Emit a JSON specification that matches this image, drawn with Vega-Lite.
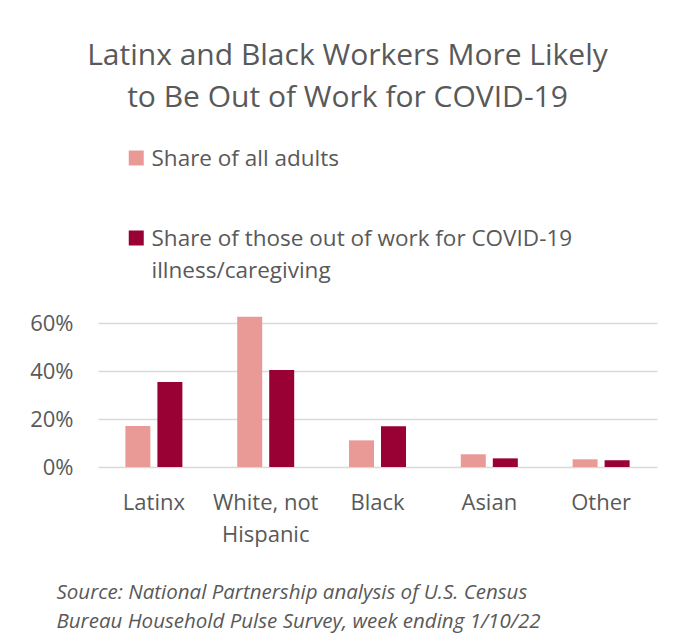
{
  "$schema": "https://vega.github.io/schema/vega-lite/v6.json",
  "width": 559,
  "height": 168,
  "autosize": {"type": "none"},
  "padding": {"left": 98, "top": 299, "right": 25, "bottom": 171},
  "background": "white",
  "title": {
    "text": ["Latinx and Black Workers More Likely", "to Be Out of Work for COVID-19"],
    "font": "Open Sans",
    "fontSize": 30,
    "fontWeight": "normal",
    "color": "#595959",
    "lineHeight": 42,
    "anchor": "middle",
    "dx": -30,
    "offset": 24
  },
  "data": {
    "values": [
      {"group": "Latinx", "series": "Share of all adults", "value": 0.171},
      {"group": "Latinx", "series": "Share of those out of work for COVID-19 illness/caregiving", "value": 0.354},
      {"group": "White, not Hispanic", "series": "Share of all adults", "value": 0.626},
      {"group": "White, not Hispanic", "series": "Share of those out of work for COVID-19 illness/caregiving", "value": 0.404},
      {"group": "Black", "series": "Share of all adults", "value": 0.111},
      {"group": "Black", "series": "Share of those out of work for COVID-19 illness/caregiving", "value": 0.17},
      {"group": "Asian", "series": "Share of all adults", "value": 0.053},
      {"group": "Asian", "series": "Share of those out of work for COVID-19 illness/caregiving", "value": 0.036},
      {"group": "Other", "series": "Share of all adults", "value": 0.032},
      {"group": "Other", "series": "Share of those out of work for COVID-19 illness/caregiving", "value": 0.028}
    ]
  },
  "mark": {"type": "bar"},
  "encoding": {
    "x": {
      "field": "group",
      "type": "nominal",
      "sort": null,
      "scale": {"paddingInner": 0, "paddingOuter": 0},
      "axis": {
        "title": ["Source: National Partnership analysis of U.S. Census", "Bureau Household Pulse Survey, week ending 1/10/22"],
        "titleFont": "Open Sans",
        "titleFontSize": 20.5,
        "titleFontStyle": "italic",
        "titleFontWeight": "normal",
        "titleColor": "#595959",
        "titleAlign": "left",
        "titleBaseline": "top",
        "titleX": -42,
        "titleY": 115,
        "titleLineHeight": 29,
        "labelAngle": 0,
        "labelFont": "Open Sans",
        "labelFontSize": 22,
        "labelColor": "#595959",
        "labelPadding": 25,
        "labelLineHeight": 32,
        "labelExpr": "datum.value == 'White, not Hispanic' ? ['White, not', 'Hispanic'] : datum.value",
        "domain": false,
        "ticks": false
      }
    },
    "xOffset": {
      "field": "series",
      "type": "nominal",
      "sort": null,
      "scale": {"paddingInner": 0.219, "paddingOuter": 0.856}
    },
    "y": {
      "field": "value",
      "type": "quantitative",
      "scale": {"domain": [0, 0.7]},
      "axis": {
        "title": null,
        "values": [0, 0.2, 0.4, 0.6],
        "format": ".0%",
        "labelFont": "Open Sans",
        "labelFontSize": 22,
        "labelColor": "#595959",
        "labelPadding": 25,
        "domain": false,
        "ticks": false,
        "gridColor": "#D9D9D9",
        "gridWidth": 1.5
      }
    },
    "color": {
      "field": "series",
      "type": "nominal",
      "sort": null,
      "scale": {"range": ["#EA9A96", "#990033"]},
      "legend": {
        "title": null,
        "orient": "none",
        "legendX": 27,
        "legendY": -162,
        "direction": "vertical",
        "symbolType": "M-1,0.3H1V2.3H-1Z",
        "symbolSize": 225,
        "symbolStrokeWidth": 0,
        "labelFont": "Open Sans",
        "labelFontSize": 22.5,
        "labelColor": "#595959",
        "labelBaseline": "top",
        "labelLimit": 600,
        "labelOffset": 4,
        "rowPadding": 46,
        "labelExpr": "datum.label == 'Share of all adults' ? datum.label : ['Share of those out of work for COVID-19', 'illness/caregiving']"
      }
    }
  },
  "config": {
    "view": {"stroke": null},
    "style": {"guide-label": {"lineHeight": 32}}
  }
}
